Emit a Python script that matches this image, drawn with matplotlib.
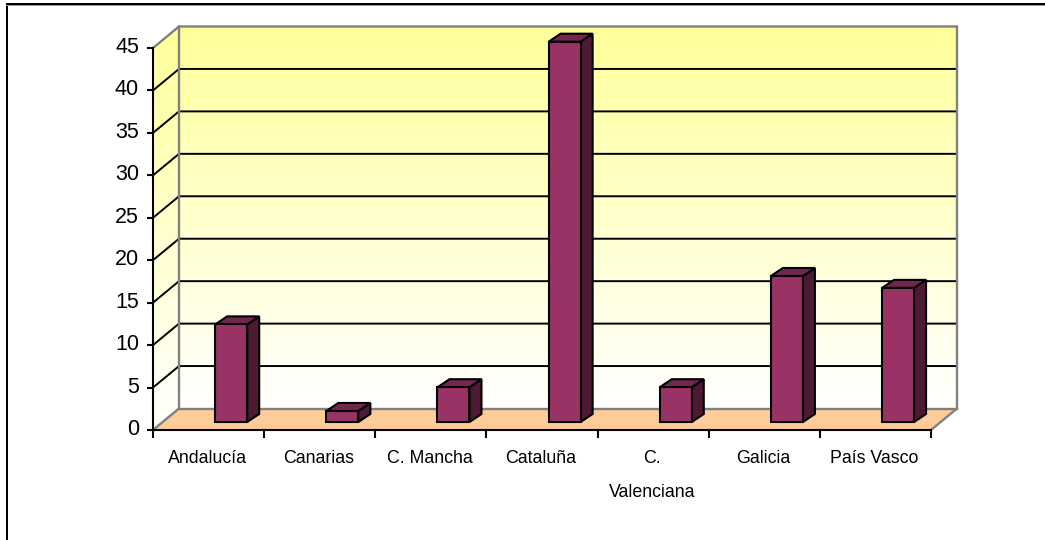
import numpy as np
import matplotlib
matplotlib.use('Agg')
import matplotlib.pyplot as plt
from matplotlib.patches import Polygon, Rectangle
from matplotlib.transforms import ScaledTranslation

plt.rcParams['font.family'] = ['Liberation Sans', 'DejaVu Sans']

categories = ['Andalucía', 'Canarias', 'C. Mancha', 'Cataluña', 'C.\nValenciana', 'Galicia', 'País Vasco']
values = [11.5, 1.3, 4.1, 44.8, 4.1, 17.2, 15.8]
y_ticks = [0, 5, 10, 15, 20, 25, 30, 35, 40, 45]

W, H = 1045, 540
x0, x1, y0, y1 = 153, 931, 430, 48   # front plane in pixels
px_x = 7 / (x1 - x0)                 # data units per pixel
px_y = 45 / (y0 - y1)
wall_dx, wall_dy = 26 * px_x, 21.5 * px_y
bar_left, bar_w = 62.2 * px_x, 32 * px_x
bar_base = 8 * px_y
bar_dx, bar_dy = 12 * px_x, 8 * px_y

fig = plt.figure(figsize=(W / 100, H / 100), dpi=100, facecolor='white')
ax = fig.add_axes([x0 / W, 1 - y0 / H, (x1 - x0) / W, (y0 - y1) / H])
ax.set_facecolor('none')

# outer frame, only top and left
fig.add_artist(Rectangle((6 / W, 0), 2 / W, 1 - 3 / H, transform=fig.transFigure, color='black', lw=0))
fig.add_artist(Rectangle((6 / W, 1 - 6 / H), 1 - 6 / W, 1 / H, transform=fig.transFigure, color='#999999', lw=0))
fig.add_artist(Rectangle((6 / W, 1 - 5 / H), 1 - 6 / W, 2 / H, transform=fig.transFigure, color='black', lw=0))

# walls with gradient
back = [(wall_dx, wall_dy), (7 + wall_dx, wall_dy), (7 + wall_dx, 45 + wall_dy), (wall_dx, 45 + wall_dy)]
side = [(0, 0), (wall_dx, wall_dy), (wall_dx, 45 + wall_dy), (0, 45)]
floor = [(0, 0), (7, 0), (7 + wall_dx, wall_dy), (wall_dx, wall_dy)]

grad = np.linspace(0, 1, 256).reshape(-1, 1)
rgb = np.dstack([np.ones_like(grad), np.ones_like(grad), 0.6 + 0.4 * grad])
for poly, ext in [(back, (wall_dx, 7 + wall_dx, wall_dy, 45 + wall_dy)), (side, (0, wall_dx, 0, 45 + wall_dy))]:
    im = ax.imshow(rgb, extent=ext, origin='upper', aspect='auto', zorder=1)
    im.set_clip_path(Polygon(poly, transform=ax.transData))
    im.set_clip_box(fig.bbox)

ax.add_patch(Polygon(floor, facecolor='#FFCC99', edgecolor='none', zorder=2, clip_on=False))

# gridlines on back and side wall
for v in y_ticks[1:-1]:
    ax.plot([0, wall_dx, 7 + wall_dx], [v, v + wall_dy, v + wall_dy], color='black', lw=1.4, zorder=3,
            clip_on=False, solid_joinstyle='miter')

# gray wall outline
ax.plot([0, wall_dx, 7 + wall_dx, 7 + wall_dx, 7], [45, 45 + wall_dy, 45 + wall_dy, wall_dy, 0],
        color='#808080', lw=1.7, zorder=3, clip_on=False, solid_joinstyle='miter')
ax.plot([0, wall_dx, wall_dx], [0, wall_dy, 45 + wall_dy], color='#808080', lw=1.7, zorder=3, clip_on=False)
ax.plot([wall_dx, 7 + wall_dx], [wall_dy, wall_dy], color='#808080', lw=1.7, zorder=3, clip_on=False)

# bars
xs = np.arange(len(values)) + bar_left
ax.bar(xs, values, width=bar_w, bottom=bar_base, align='edge', facecolor='#993366', edgecolor='black',
       linewidth=1.5, zorder=5, clip_on=False)
for x, v in zip(xs, values):
    top = bar_base + v
    right = x + bar_w
    ax.add_patch(Polygon([(right, bar_base), (right + bar_dx, bar_base + bar_dy), (right + bar_dx, top + bar_dy), (right, top)],
                         facecolor='#4D1A33', edgecolor='black', lw=1.5, zorder=4, clip_on=False, joinstyle='miter'))
    ax.add_patch(Polygon([(x, top), (x + bar_dx, top + bar_dy), (right + bar_dx, top + bar_dy), (right, top)],
                         facecolor='#732650', edgecolor='black', lw=1.5, zorder=4, clip_on=False, joinstyle='miter'))

ax.set_xlim(0, 7)
ax.set_ylim(0, 45)

for s in ['top', 'right']:
    ax.spines[s].set_visible(False)
for s in ['left', 'bottom']:
    ax.spines[s].set_linewidth(1.5)
    ax.spines[s].set_zorder(6)

ax.set_yticks(y_ticks)
ax.tick_params(axis='y', length=4, width=1.5, labelsize=15.5, pad=6)
up = ScaledTranslation(0, 3 / 100, fig.dpi_scale_trans)
for lab in ax.get_yticklabels():
    lab.set_transform(lab.get_transform() + up)
ax.set_xticks(range(8))
ax.set_xticklabels([])
ax.tick_params(axis='x', which='major', length=6, width=1.5)
ax.set_xticks(np.arange(7) + 0.49, minor=True)
ax.set_xticklabels(categories, minor=True, fontsize=12.8, linespacing=2.3, va='top')
ax.tick_params(axis='x', which='minor', length=0, pad=14.5)

fig.savefig('out.png', dpi=100)
